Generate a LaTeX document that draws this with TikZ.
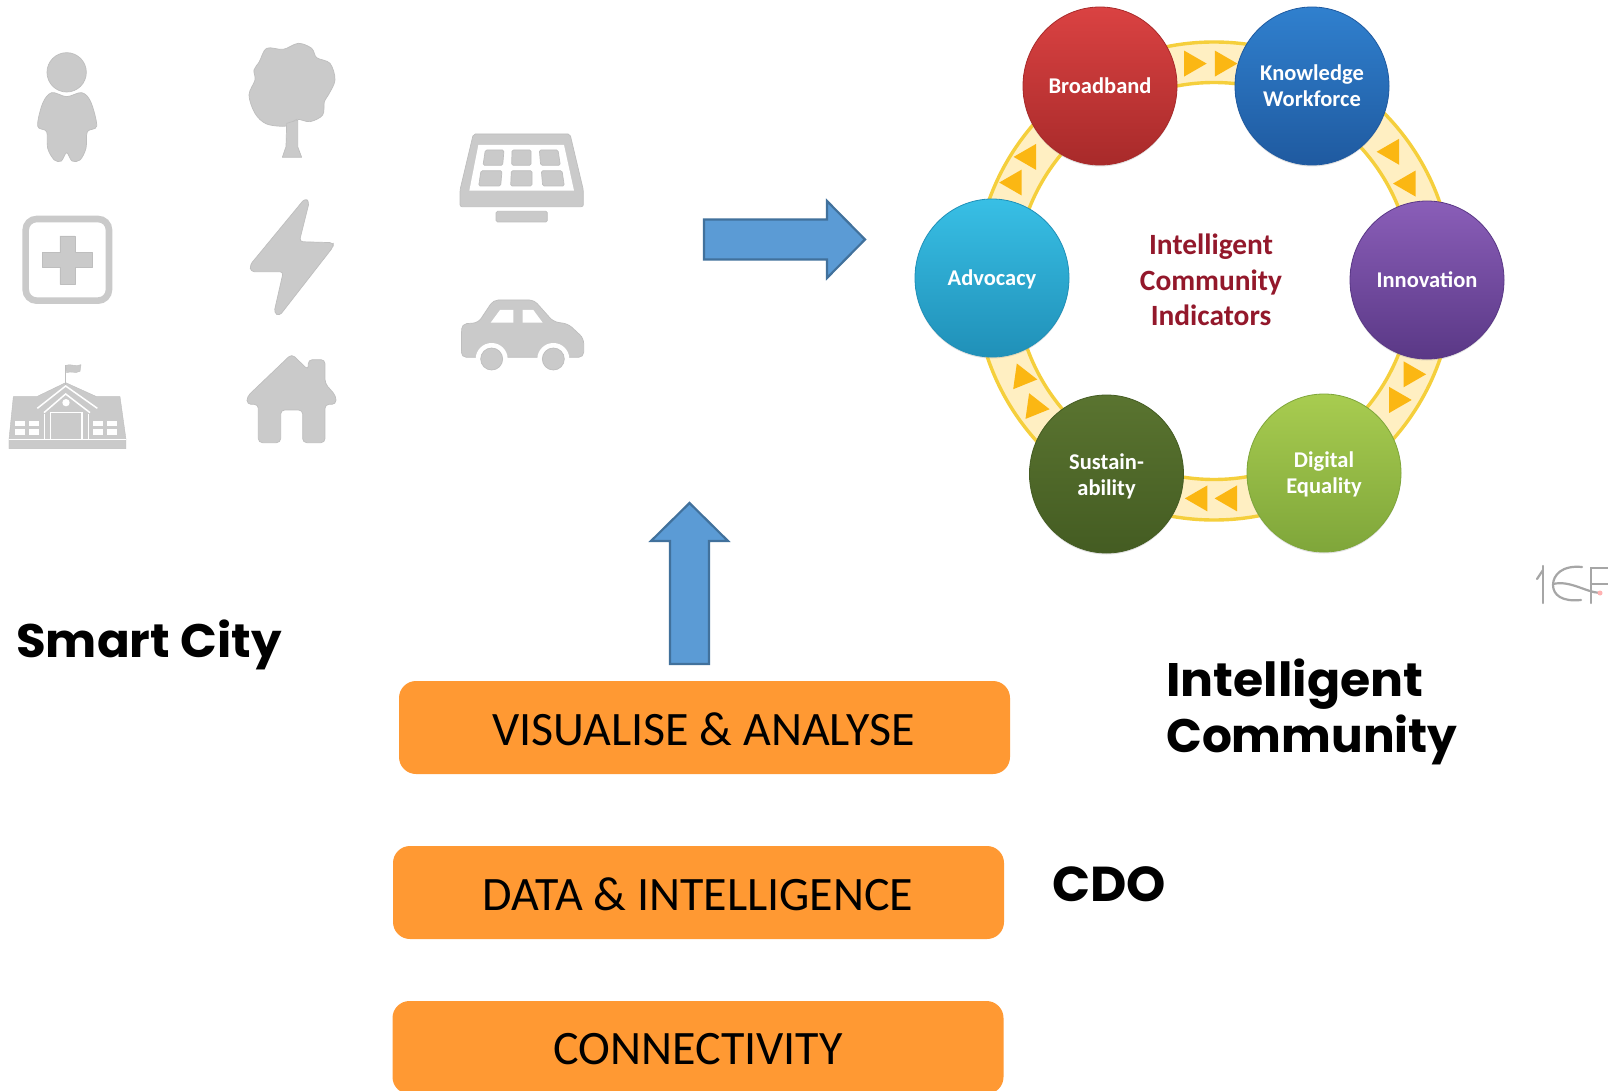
\documentclass[tikz,border=0pt]{standalone}
\usepackage{fontspec}
\usepackage{graphicx}
\setmainfont{Carlito}
\newfontfamily\titlefont{Poppins}[BoldFont={Poppins Bold}]
\usetikzlibrary{shapes.geometric,shadows}
\definecolor{iconc}{HTML}{CACACA}
\definecolor{iconl}{HTML}{BEBEBE}
\definecolor{barfill}{HTML}{FF9933}
\definecolor{arrowfill}{HTML}{5B9BD5}
\definecolor{arrowline}{HTML}{41719C}
\definecolor{bandfill}{HTML}{FFEFC2}
\definecolor{bandline}{HTML}{F5CF3C}
\definecolor{trifill}{HTML}{FBB713}
\definecolor{indicatorred}{HTML}{93182B}
\definecolor{redA}{HTML}{DA4242}\definecolor{redB}{HTML}{C83434}\definecolor{redC}{HTML}{A82A2A}
\definecolor{bluA}{HTML}{3080CE}\definecolor{bluB}{HTML}{2568B8}\definecolor{bluC}{HTML}{1F5AA0}
\definecolor{purA}{HTML}{8A5EB8}\definecolor{purB}{HTML}{6F46A0}\definecolor{purC}{HTML}{5A3886}
\definecolor{limA}{HTML}{A8CC50}\definecolor{limB}{HTML}{93BC44}\definecolor{limC}{HTML}{7FA63A}
\definecolor{oliA}{HTML}{5A7430}\definecolor{oliB}{HTML}{4E6828}\definecolor{oliC}{HTML}{445C22}
\definecolor{cyaA}{HTML}{38BFE5}\definecolor{cyaB}{HTML}{28A8D0}\definecolor{cyaC}{HTML}{2090B8}
\tikzset{
  icon/.style={fill=iconc,draw=iconl,line width=.7pt,line join=round},
  cut/.style={draw=white,line width=1.5pt},
  barbox/.style={rectangle,rounded corners=17pt,fill=barfill,minimum width=611pt,minimum height=93pt,font=\fontsize{48}{56}\selectfont,text=black},
  bartext/.style={inner sep=0pt,font=\fontsize{48}{56}\selectfont,text=black},
  blockarrow/.style={fill=arrowfill,draw=arrowline,line width=2.2pt,line join=miter},
  title/.style={anchor=base west,inner sep=0pt,font=\titlefont\bfseries\fontsize{47}{56}\selectfont,text=black},
  ball/.style n args={3}{ellipse,minimum width=154pt,minimum height=158pt,inner sep=0pt,
    top color=#1,middle color=#2,bottom color=#3,draw=#3,line width=.8pt,
    drop shadow={shadow xshift=0pt,shadow yshift=-1.5pt,fill=black!40,opacity=.3}},
  balltext/.style={text=white,align=center,inner sep=0pt,font=\bfseries\fontsize{22.5}{26}\selectfont},
  tri/.style={fill=trifill,draw=none},
}
% triangle: centre (#1,#2) in shrunk-view units, tip direction #3
\newcommand{\ringtri}[3]{%
  \fill[tri] ({1.0255*#1+15*cos(#3)},{1.0255*#2-15*sin(#3)})
    -- ({1.0255*#1+15*cos(#3+120)},{1.0255*#2-15*sin(#3+120)})
    -- ({1.0255*#1+15*cos(#3-120)},{1.0255*#2-15*sin(#3-120)}) -- cycle;}
\begin{document}
\begin{tikzpicture}[x=1pt,y=-1pt]
\useasboundingbox (0,0) rectangle (1608,1091);
\fill[white] (0,0) rectangle (1608,1091);

% ---- icons, zoom units ----
\begin{scope}[shift={(0,20)},x=.33333pt,y=-.33333pt]
  % person
  \draw[icon] (200,157) circle[radius=59];
  \draw[icon] plot[smooth cycle,tension=.55] coordinates {(155,218)(200,230)(245,218)(272,245)(290,318)(262,335)(258,385)(240,420)(216,423)(200,398)(184,423)(163,420)(143,385)(140,335)(113,318)(128,250)};
  % tree
  \draw[icon] plot[smooth cycle,tension=.55] coordinates {(778,125)(800,85)(850,88)(895,70)(935,85)(950,113)(990,130)(1005,180)(985,225)(973,245)(968,285)(930,305)(890,298)(860,318)(800,312)(765,280)(747,225)(765,180)(762,150)};
  \draw[icon] (860,310) -- (858,380) -- (847,412) -- (905,412) -- (893,380) -- (893,300) -- cycle;
  % health
  \draw[draw=iconc,line width=6.6pt,rounded corners=11pt] (77,597) rectangle (327,842);
  \draw[icon] (180,648) -- (225,648) -- (225,698) -- (277,698) -- (277,742) -- (225,742) -- (225,793) -- (180,793) -- (180,742) -- (128,742) -- (128,698) -- (180,698) -- cycle;
  % lightning
  \draw[icon,rounded corners=3.5pt] (915,535) -- (928,545) -- (898,665) -- (1000,668) -- (1000,680) -- (838,888) -- (822,878) -- (850,755) -- (752,755) -- (750,735) -- cycle;
  % school
  \draw[icon,line width=.4pt] (40,1130) -- (110,1130) -- (197,1088) -- (290,1130) -- (360,1130) -- (378,1258) -- (378,1286) -- (27,1286) -- (27,1258) -- cycle;
  \draw[icon,line width=1.3pt] (196,1095) -- (196,1036);
  \draw[icon,line width=.4pt] (197,1036) .. controls (212,1030) and (228,1042) .. (243,1034) -- (240,1054) .. controls (226,1062) and (212,1052) .. (200,1058) -- cycle;
  \draw[cut] (112,1165) -- (197,1098) -- (292,1165);
  \draw[cut] (132,1178) -- (197,1122) -- (270,1178);
  \fill[white] (198,1148) circle[radius=11];
  \draw[cut] (152,1258) -- (152,1178) -- (246,1178) -- (246,1258);
  \draw[cut] (133,1258) -- (133,1182);
  \draw[cut] (266,1258) -- (266,1182);
  \draw[cut,line width=1pt] (27,1258) -- (378,1258);
  \foreach \xa/\xb in {45/75,87/117,280/308,322/352}
    \foreach \ya/\yb in {1202/1218,1228/1244}
      \fill[white] (\xa,\ya) rectangle (\xb,\yb);
  % house
  \draw[icon,rounded corners=4pt] (875,1002) -- (925,1050) -- (925,1019) -- (975,1019) -- (975,1090) -- (1008,1128) -- (1008,1153) -- (975,1153) -- (975,1268) -- (908,1268) -- (908,1170) -- (842,1170) -- (842,1268) -- (775,1268) -- (775,1153) -- (741,1153) -- (741,1130) -- cycle;
\end{scope}

\begin{scope}[shift={(440,120)},x=.33333pt,y=-.33333pt]
  % solar panel
  \draw[icon,rounded corners=2pt] (100,42) -- (390,42) -- (430,210) -- (430,260) -- (60,260) -- (60,210) -- cycle;
  \fill[white] (115,75) -- (372,75) -- (402,212) -- (88,212) -- cycle;
  \draw[icon,rounded corners=1.5pt] (136,90) -- (192,90) -- (188,136) -- (129,136) -- cycle;
  \draw[icon,rounded corners=1.5pt] (216,90) -- (273,90) -- (273,136) -- (215,136) -- cycle;
  \draw[icon,rounded corners=1.5pt] (298,90) -- (354,90) -- (361,136) -- (302,136) -- cycle;
  \draw[icon,rounded corners=1.5pt] (123,152) -- (186,152) -- (182,198) -- (116,198) -- cycle;
  \draw[icon,rounded corners=1.5pt] (214,152) -- (276,152) -- (276,198) -- (212,198) -- cycle;
  \draw[icon,rounded corners=1.5pt] (304,152) -- (366,152) -- (373,198) -- (308,198) -- cycle;
  \draw[icon,rounded corners=1.5pt] (168,274) rectangle (322,306);
  % car
  \draw[icon,rounded corners=5pt] (65,612) -- (115,608) -- (160,540) -- (282,540) -- (340,605) -- (385,612) -- (431,655) -- (431,712) -- (64,712) -- cycle;
  \fill[white] (155,717) circle[radius=48];
  \fill[white] (340,717) circle[radius=48];
  \fill[white] (100,714) rectangle (395,770);
  \fill[white] (152,608) -- (180,570) -- (220,570) -- (220,608) -- cycle;
  \fill[white] (248,570) -- (280,570) -- (308,608) -- (248,608) -- cycle;
  \draw[icon] (155,717) circle[radius=33];
  \draw[icon] (340,717) circle[radius=33];
\end{scope}

% ---- block arrows ----
\draw[blockarrow] (704,219.5) -- (827,219.5) -- (827,201) -- (865,239.5) -- (827,278) -- (827,259.5) -- (704,259.5) -- cycle;
\draw[blockarrow] (670,664) -- (670,541) -- (651,541) -- (689.5,503) -- (728,541) -- (709,541) -- (709,664) -- cycle;

% ---- indicator ring ----
\fill[bandfill,even odd rule] (1214,281) circle[x radius=240,y radius=240] (1214,281) circle[x radius=198,y radius=198];
\draw[bandline,line width=3.4pt] (1214,281) circle[radius=239];
\draw[bandline,line width=3.4pt] (1214,281) circle[radius=198.5];
\ringtri{1162}{62}{0}\ringtri{1192}{62}{0}
\ringtri{1357}{148}{-60}\ringtri{1373}{179}{-60}
\ringtri{1376}{365}{-120}\ringtri{1362}{390}{-120}
\ringtri{1199}{486}{180}\ringtri{1170}{486}{180}
\ringtri{1009}{397}{112}\ringtri{997}{368}{112}
\ringtri{989}{178}{60}\ringtri{1003}{153}{60}

\node[ball={redA}{redB}{redC}] (broadband) at (1100,86) {};
\node[ball={bluA}{bluB}{bluC}] (knowledge) at (1312,86) {};
\node[ball={purA}{purB}{purC}] (innovation) at (1427,280) {};
\node[ball={limA}{limB}{limC}] (digital) at (1324,473) {};
\node[ball={oliA}{oliB}{oliC}] (sustain) at (1106.5,474) {};
\node[ball={cyaA}{cyaB}{cyaC}] (advocacy) at (992,278) {};
\node[balltext] (tbroad) at (1100,86) {Broadband};
\node[balltext] (tknow) at (1312,86) {Knowledge\\Workforce};
\node[balltext] (tinno) at (1427,280) {Innovation};
\node[balltext] (tdigi) at (1324,474) {Digital\\Equality};
\node[balltext] (tsust) at (1106.5,476) {Sustain-\\ability};
\node[balltext] (tadvo) at (992,279.5) {Advocacy};
\node[align=center,text=indicatorred,font=\bfseries\fontsize{29.4}{35.5}\selectfont] (indicators) at (1211,280) {Intelligent\\Community\\Indicators};

% ---- logo fragment ----
\begin{scope}[draw=gray!70,line width=2.2pt,line cap=round]
  \draw (1543,566) -- (1543,603);
  \draw (1537,579) -- (1543,570);
  \draw (1582,567) .. controls (1562,565) and (1553,575) .. (1553,585) .. controls (1553,595) and (1562,602) .. (1581,600);
  \draw (1553,584) .. controls (1570,580) and (1585,592) .. (1600,593);
  \draw (1591,603) -- (1591,568) -- (1608,568);
  \draw (1591,584) -- (1608,584);
\end{scope}
\fill[red!30] (1600,593) circle[radius=2.5];

% ---- stacked bars ----
\node[barbox] (visualise) at (704.5,727.5) {};
\node[barbox] (data) at (698.5,892.5) {};
\node[barbox] (connect) at (698,1047.5) {};
\node[bartext] (tvis) at (703.5,729) {VISUALISE \& ANALYSE};
\node[bartext] (tdat) at (698,894) {DATA \& INTELLIGENCE};
\node[bartext] (tcon) at (698,1049) {CONNECTIVITY};

% ---- titles ----
\node[title] (smart) at (16,657) {\scalebox{1.028}[1]{Smart City}};
\node[title] (intel) at (1166,696) {\scalebox{1.042}[1]{Intelligent}};
\node[title] (comm) at (1166,752) {Community};
\node[title,font=\titlefont\bfseries\fontsize{49}{56}\selectfont] (cdo) at (1052,901.5) {\scalebox{1.02}[1]{CDO}};
\end{tikzpicture}
\end{document}
